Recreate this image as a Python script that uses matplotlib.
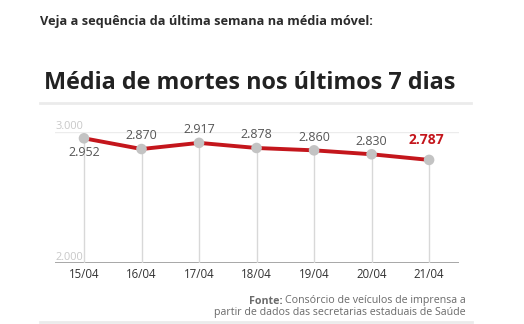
import matplotlib
matplotlib.use("Agg")
import matplotlib.pyplot as plt
from matplotlib.lines import Line2D

# Moving average of deaths over the last seven days
dates = ["15/04", "16/04", "17/04", "18/04", "19/04", "20/04", "21/04"]
deaths = [2952, 2870, 2917, 2878, 2860, 2830, 2787]
value_labels = ["2.952", "2.870", "2.917", "2.878", "2.860", "2.830", "2.787"]
ytick_values = [2000, 3000]
ytick_labels = ["2.000", "3.000"]

W, H = 524, 324
plt.rcParams["font.family"] = ["Open Sans", "DejaVu Sans"]
fig = plt.figure(figsize=(W / 100, H / 100), dpi=100)
fig.patch.set_facecolor("white")


def fx(px):
    return px / W


def fy(py):
    return 1 - py / H


# Header and title
fig.text(fx(40), fy(22), "Veja a sequência da última semana na média móvel:",
         fontsize=9.15, fontweight="bold", color="#2b2b2b", va="center", ha="left")
fig.text(fx(44), fy(83), "Média de mortes nos últimos 7 dias",
         fontsize=16.8, fontweight="bold", color="#222222", va="center", ha="left")
fig.add_artist(Line2D([fx(40), fx(471)], [fy(103), fy(103)], color="#ebebeb",
                      lw=2, transform=fig.transFigure))

# Chart area
ax = fig.add_axes([fx(55), fy(263), fx(459) - fx(55), fy(132) - fy(263)])
ax.set_xlim(-0.504, 6.52)
ax.set_ylim(2000, 3000)
for s in ax.spines.values():
    s.set_visible(False)
ax.set_yticks([])
ax.set_xticks(range(len(dates)))
ax.set_xticklabels(dates, fontsize=8.3, color="#333333")
ax.tick_params(axis="x", length=0, pad=3.5)

# Baseline and top grid line
ax.axhline(2000, color="#a0a0a0", lw=1.3, zorder=1)
ax.axhline(3000, color="#ececec", lw=1.0, zorder=0)
for v, t in zip(ytick_values, ytick_labels):
    ax.text(-0.5, v, t, fontsize=7.9, color="#c8c8c8", ha="left", va="bottom")

# Drop lines from each point
x = list(range(len(dates)))
ax.vlines(x, 2000, deaths, color="#d8d8d8", lw=1.0, zorder=1)

ax.plot(x, deaths, color="#c4161c", lw=2.8, zorder=3, solid_capstyle="round")
ax.scatter(x, deaths, s=58, color="#c3c3c3", zorder=4, edgecolors="none", clip_on=False)

# Value labels
for i, (v, lab) in enumerate(zip(deaths, value_labels)):
    if i == 0:
        ax.annotate(lab, (i, v), xytext=(0, -10), textcoords="offset points",
                    ha="center", va="center", fontsize=9, color="#555555")
    elif i == len(deaths) - 1:
        ax.annotate(lab, (i, v), xytext=(-2, 14), textcoords="offset points",
                    ha="center", va="center", fontsize=10, fontweight="bold",
                    color="#c4161c")
    else:
        ax.annotate(lab, (i, v), xytext=(0, 9.5), textcoords="offset points",
                    ha="center", va="center", fontsize=9, color="#555555")

# Source note
src_rest = fig.text(fx(466), fy(301), "Consórcio de veículos de imprensa a",
                    fontsize=7.65, color="#6a6a6a", ha="right", va="center")
fig.text(fx(466), fy(313), "partir de dados das secretarias estaduais de Saúde",
         fontsize=7.65, color="#6a6a6a", ha="right", va="center")
fig.canvas.draw()
bb = src_rest.get_window_extent()
fig.text(bb.x0 / W - fx(3), fy(301), "Fonte:", fontsize=7.65, fontweight="bold",
         color="#6a6a6a", ha="right", va="center")
fig.add_artist(Line2D([fx(40), fx(472)], [fy(322), fy(322)], color="#ebebeb",
                      lw=2, transform=fig.transFigure))

fig.savefig("out.png", dpi=100, facecolor="white")
